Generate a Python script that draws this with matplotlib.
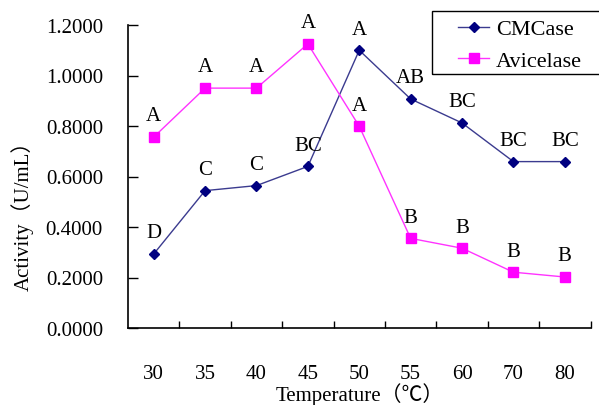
import matplotlib
matplotlib.use("Agg")
import matplotlib.pyplot as plt
from matplotlib.ticker import FixedLocator
from matplotlib.patches import Rectangle

categories = ["30", "35", "40", "45", "50", "55", "60", "70", "80"]
cmcase = [0.293, 0.544, 0.564, 0.640, 1.100, 0.907, 0.812, 0.659, 0.659]
avicelase = [0.756, 0.950, 0.950, 1.125, 0.799, 0.355, 0.316, 0.221, 0.202]
cm_letters = ["D", "C", "C", "BC", "A", "AB", "BC", "BC", "BC"]
av_letters = ["A", "A", "A", "A", "A", "B", "B", "B", "B"]
yticks = [0.0, 0.2, 0.4, 0.6, 0.8, 1.0, 1.2]

plt.rcParams['font.family'] = ['Liberation Serif', 'Noto Sans CJK SC', 'DejaVu Sans']

fig = plt.figure(figsize=(5.99, 4.06), dpi=100)
ax = fig.add_axes([128/599, 1-329/406, (590.5-128)/599, (329-26)/406])

x = list(range(len(categories)))
ax.plot(x, cmcase, color="#3b3b8f", lw=1.0, marker="D", ms=5.5,
        mfc="#000080", mec="#000080", label="CMCase")
ax.plot(x, avicelase, color="#ff33ff", lw=1.0, marker="s", ms=7,
        mfc="#ff00ff", mec="#ff00ff", label="Avicelase")

for xi, yi, t in zip(x, cmcase, cm_letters):
    ax.annotate(t, (xi, yi), xytext=(0, 12), textcoords="offset points",
                ha="center", va="baseline", fontsize=15)
for xi, yi, t in zip(x, avicelase, av_letters):
    ax.annotate(t, (xi, yi), xytext=(0, 12), textcoords="offset points",
                ha="center", va="baseline", fontsize=15)

ax.set_xlim(-0.5, len(categories) - 0.5)
ax.set_ylim(0, 1.2)
ax.set_yticks(yticks)
ax.set_yticklabels([f"{v:.4f}" for v in yticks], fontsize=15)
ax.set_xticks(x)
ax.set_xticklabels(categories, fontsize=15)
ax.xaxis.set_minor_locator(FixedLocator([i + 0.5 for i in range(len(categories))]))
ax.tick_params(axis="x", which="major", length=0, pad=26)
ax.tick_params(axis="x", which="minor", direction="in", length=5, width=1)
ax.tick_params(axis="y", direction="in", length=7, width=1, pad=18)
ax.spines["top"].set_visible(False)
ax.spines["right"].set_visible(False)
for s in ("left", "bottom"):
    ax.spines[s].set_linewidth(1.2)

ax.set_xlabel("Temperature（℃）", fontsize=15)
ax.xaxis.set_label_coords(0.5, -(395 - 329) / 303, transform=ax.transAxes)
ax.xaxis.label.set_va("center")
ax.set_ylabel("Activity（U/mL）", fontsize=15)
ax.yaxis.set_label_coords(-(128 - 22) / 462.5, (329 - 211) / 303)
ax.yaxis.label.set_va("center")

# legend frame (extends past right edge as in reference)
fig.patches.append(Rectangle((432/599, 1-75/406), 0.4, 63/406, fill=False,
                             edgecolor="black", lw=1.0, transform=fig.transFigure))
leg = fig.legend(loc="center left", bbox_to_anchor=(458/599, 1-46/406),
                 fontsize=16, frameon=False,
                 handlelength=1.4, borderpad=0, labelspacing=0.5,
                 handletextpad=0.3, borderaxespad=0)

fig.savefig("out.png", dpi=100)
